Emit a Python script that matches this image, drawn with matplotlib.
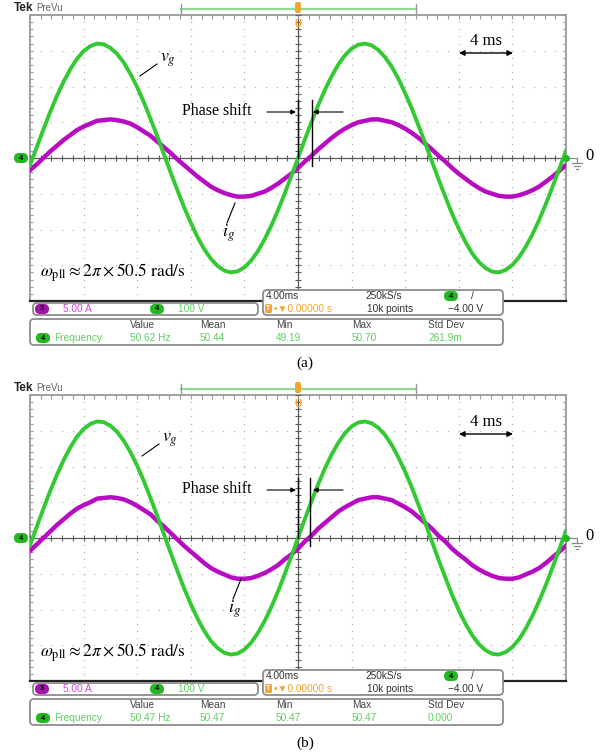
import numpy as np
import matplotlib
matplotlib.use('Agg')
import matplotlib.pyplot as plt
from matplotlib.patches import FancyBboxPatch, Rectangle

plt.rcParams['mathtext.fontset'] = 'stix'

W, H = 611, 756

# ---------------- data ----------------
t_ms = [k * 0.5 for k in range(-40, 41)]  # sample times relative to trigger, ms
vg_a = [-20, 30, 80, 128, 173, 213, 248, 277, 299, 313, 320, 318, 308, 291, 267, 235, 198, 156, 109, 61,
        10, -41, -90, -138, -181, -221, -255, -282, -302, -315, -320, -317, -306, -287, -261, -228, -190, -147, -100, -51,
        0, 51, 100, 147, 190, 228, 261, 287, 306, 317, 320, 315, 302, 282, 255, 221, 181, 138, 90, 41,
        -10, -61, -109, -156, -198, -235, -267, -291, -308, -318, -320, -313, -299, -277, -248, -213, -173, -128, -80, -30,
        20]
ig_a = [-1.7, -0.9, 0.0, 0.9, 1.7, 2.5, 3.2, 3.9, 4.4, 4.8, 5.2, 5.3, 5.4, 5.3, 5.1, 4.8, 4.3, 3.7, 3.1, 2.3,
        1.5, 0.7, -0.2, -1.0, -1.8, -2.6, -3.3, -4.0, -4.5, -4.9, -5.2, -5.4, -5.4, -5.3, -5.0, -4.7, -4.2, -3.6, -2.9, -2.2,
        -1.4, -0.5, 0.3, 1.2, 2.0, 2.8, 3.5, 4.1, 4.6, 5.0, 5.2, 5.4, 5.4, 5.2, 5.0, 4.6, 4.1, 3.5, 2.8, 2.0,
        1.2, 0.3, -0.5, -1.4, -2.2, -2.9, -3.6, -4.2, -4.7, -5.0, -5.3, -5.4, -5.4, -5.2, -4.9, -4.5, -4.0, -3.3, -2.6, -1.8,
        -1.0]
vg_b = [-20, 31, 82, 131, 176, 217, 253, 283, 305, 319, 326, 324, 314, 297, 272, 240, 202, 159, 111, 62,
        10, -42, -92, -141, -185, -225, -260, -288, -308, -321, -326, -323, -312, -293, -266, -233, -194, -150, -102, -52,
        0, 52, 102, 150, 194, 233, 266, 293, 312, 323, 326, 321, 308, 288, 260, 225, 185, 141, 92, 42,
        -10, -62, -111, -159, -202, -240, -272, -297, -314, -324, -326, -319, -305, -283, -253, -217, -176, -131, -82, -31,
        20]
ig_b = [-1.8, -0.9, 0.0, 0.9, 1.8, 2.6, 3.4, 4.1, 4.6, 5.0, 5.5, 5.6, 5.7, 5.6, 5.4, 5.0, 4.5, 3.9, 3.3, 2.4,
        1.6, 0.7, -0.2, -1.1, -1.9, -2.7, -3.5, -4.2, -4.7, -5.1, -5.5, -5.7, -5.7, -5.6, -5.3, -4.9, -4.4, -3.8, -3.0, -2.3,
        -1.5, -0.5, 0.3, 1.3, 2.1, 2.9, 3.7, 4.3, 4.8, 5.3, 5.5, 5.7, 5.7, 5.5, 5.3, 4.8, 4.3, 3.7, 2.9, 2.1,
        1.3, 0.3, -0.5, -1.5, -2.3, -3.0, -3.8, -4.4, -4.9, -5.3, -5.6, -5.7, -5.7, -5.5, -5.1, -4.7, -4.2, -3.5, -2.7, -1.9,
        -1.1]
volts_per_div = 100
amps_per_div = 5

freq_headers = ["Value", "Mean", "Min", "Max", "Std Dev"]
freq_a = ["50.62 Hz", "50.44", "49.19", "50.70", "261.9m"]
freq_b = ["50.47 Hz", "50.47", "50.47", "50.47", "0.000"]
panel_labels = ["(a)", "(b)"]
pll_text = r'$\omega_{\mathrm{pll}} \approx 2\pi \times 50.5\ \mathrm{rad/s}$'

# ---------------- styling ----------------
GREEN = '#33c933'
MAGENTA = '#b80cc2'
TXT_GREEN = '#5fcf5f'
TXT_MAG = '#d247d8'
ORANGE = '#f2a531'
NARROW = ['Liberation Sans Narrow', 'Liberation Sans', 'DejaVu Sans']
SERIF = ['Liberation Serif', 'DejaVu Serif']

fig = plt.figure(figsize=(W / 100, H / 100), dpi=100)
ov = fig.add_axes([0, 0, 1, 1], zorder=5)
ov.set_xlim(0, W)
ov.set_ylim(H, 0)
ov.axis('off')
ov.patch.set_alpha(0)


def rbox(x0, y0, x1, y1, ec='#8c8c8c', fc='white', lw=1.3, r=4):
    ov.add_patch(FancyBboxPatch((x0, y0), x1 - x0, y1 - y0,
                                boxstyle=f'round,pad=0,rounding_size={r}',
                                ec=ec, fc=fc, lw=lw, zorder=6))


def badge(xc, yc, label, fc):
    ov.add_patch(FancyBboxPatch((xc - 7, yc - 5), 14, 10,
                                boxstyle='round,pad=0,rounding_size=5',
                                ec='none', fc=fc, zorder=7))
    ov.text(xc, yc, label, fontsize=5.5, ha='center', va='center',
            color='black', family=NARROW, fontweight='bold', zorder=8)


def stxt(x, y, s, color='#444444', size=7.3, ha='left'):
    ov.text(x, y, s, fontsize=size, color=color, ha=ha, va='center',
            family=NARROW, zorder=8)


def draw_panel(off, vg, ig, fvals, label, ann):
    gx0, gx1 = 30, 566
    gy0, gy1 = 15 + off, 301 + off
    ax = fig.add_axes([gx0 / W, 1 - gy1 / H, (gx1 - gx0) / W, (gy1 - gy0) / H], zorder=1)
    ax.set_xlim(-20, 20)
    ax.set_ylim(-4, 4)
    ax.axis('off')

    # dotted graticule
    ys = np.arange(-4, 4.001, 0.2)
    xs = np.arange(-20, 20.001, 0.8)
    for xv in [-16, -12, -8, -4, 4, 8, 12, 16]:
        ax.plot([xv] * len(ys), ys, ls='none', marker='s', ms=0.9, color='#b5b5b5', mew=0)
    for yv in [-3, -2, -1, 1, 2, 3]:
        ax.plot(xs, [yv] * len(xs), ls='none', marker='s', ms=0.9, color='#b5b5b5', mew=0)
    # centre cross with minor ticks
    ax.axhline(0, color='#5a5a5a', lw=0.9)
    ax.axvline(0, color='#5a5a5a', lw=0.9)
    ax.vlines(xs, -0.09, 0.09, color='#5a5a5a', lw=0.8)
    ax.hlines(ys, -0.22, 0.22, color='#5a5a5a', lw=0.8)
    # border and border ticks
    ax.vlines(xs, 3.9, 4, color='#9a9a9a', lw=0.8)
    ax.hlines(ys, -20, -19.75, color='#9a9a9a', lw=0.8)
    ax.hlines(ys, 19.75, 20, color='#9a9a9a', lw=0.8)
    ax.add_patch(Rectangle((-20, -4), 40, 8, fill=False, ec='#a0a0a0', lw=1.4, clip_on=False))
    ax.plot([-20, 20], [-4, -4], color='#222222', lw=1.6, clip_on=False)

    # traces
    ax.plot(t_ms, np.array(ig) / amps_per_div, color=MAGENTA, lw=3.2,
            solid_joinstyle='round', zorder=3)
    ax.plot(t_ms, np.array(vg) / volts_per_div, color=GREEN, lw=2.8,
            solid_joinstyle='round', zorder=4)

    # --- header ---
    ov.text(14, 8 + off, 'Tek', fontsize=8.5, fontweight='bold', va='center',
            family=NARROW, color='#222222')
    ov.text(36, 8 + off, 'PreVu', fontsize=7, va='center', family=NARROW, color='#666666')
    ov.plot([181, 416], [9 + off, 9 + off], color='#8fdc8f', lw=1.6)
    ov.plot([181, 181], [4 + off, 14 + off], color='#999999', lw=1)
    ov.plot([416, 416], [4 + off, 14 + off], color='#999999', lw=1)
    ov.add_patch(FancyBboxPatch((295, 2 + off), 6, 11, boxstyle='round,pad=0,rounding_size=2',
                                fc=ORANGE, ec='none', zorder=7))
    ov.text(298, 24 + off, 'U', fontsize=7, color=ORANGE, ha='center', va='center',
            fontweight='bold', family=NARROW, zorder=8)

    # zero markers
    badge(21, 158 + off, '4', '#22b822')
    ov.plot([566], [158 + off], marker='o', ms=4, color='#22b822', zorder=7)
    ov.plot([566, 577, 577], [158 + off, 158 + off, 163 + off], color='#888888', lw=0.9)
    for w, dy in [(10, 163), (6, 166), (2, 169)]:
        ov.plot([577 - w / 2, 577 + w / 2], [dy + off, dy + off], color='#888888', lw=0.9)
    ov.text(585, 156 + off, '0', fontsize=12, family=SERIF, va='center')

    # --- annotations ---
    ov.text(486, 41 + off + ann['ms'], '4 ms', fontsize=12, family=SERIF, ha='center', va='center')
    ov.annotate('', xy=(513, 53 + off + ann['ms']), xytext=(459, 53 + off + ann['ms']),
                arrowprops=dict(arrowstyle='<|-|>', color='black', lw=1, mutation_scale=8,
                                shrinkA=0, shrinkB=0))
    vx, vy = ann['vg']
    ov.text(vx, vy + off, r'$v_g$', fontsize=13, va='center')
    ov.plot([vx - 3, vx - 20], [vy + off + 4, vy + off + 16], color='black', lw=0.8)
    ix, iy = ann['ig']
    ov.text(ix, iy + off, r'$i_g$', fontsize=13, va='center')
    ov.plot([ix + 5, ix + 13], [iy + off - 10, iy + off - 30], color='black', lw=0.8)
    py = ann['ps'] + off
    ov.text(182, py - 1, 'Phase shift', fontsize=11.5, family=SERIF, va='center')
    ov.annotate('', xy=(296, py), xytext=(267, py),
                arrowprops=dict(arrowstyle='-|>', color='black', lw=0.8, mutation_scale=7,
                                shrinkA=0, shrinkB=0))
    ov.annotate('', xy=(313, py), xytext=(343, py),
                arrowprops=dict(arrowstyle='-|>', color='black', lw=0.8, mutation_scale=7,
                                shrinkA=0, shrinkB=0))
    ov.plot([298, 298], [py - 12, 158 + off], color='black', lw=1.0)
    ov.plot([ann['x2'], ann['x2']], [py - 12, 166 + off], color='black', lw=1.0)
    ov.text(40, 273 + off, pll_text, fontsize=12.5, va='center')

    # --- status boxes ---
    rbox(33, 303 + off, 258, 315 + off)
    badge(42, 309 + off, '3', '#a314ab')
    stxt(63, 309 + off, '5.00 A', color=TXT_MAG)
    badge(157, 309 + off, '4', '#22b822')
    stxt(178, 309 + off, '100 V', color=TXT_GREEN)

    rbox(263, 290 + off, 503, 315 + off)
    stxt(266, 296 + off, '4.00ms', color='#333333')
    stxt(365, 296 + off, '250kS/s', color='#333333')
    badge(451, 296 + off, '4', '#22b822')
    stxt(471, 296 + off, '/', color='#333333')
    ov.add_patch(FancyBboxPatch((265, 304 + off), 7, 9, boxstyle='round,pad=0,rounding_size=1.5',
                                fc=ORANGE, ec='none', zorder=7))
    ov.text(268.5, 308.5 + off, 'T', fontsize=5, color='white', ha='center', va='center',
            family=NARROW, fontweight='bold', zorder=8)
    ov.text(274, 309 + off, '\u2022\u25bc0.00000 s', fontsize=7.3, color=ORANGE, va='center',
            family=NARROW, zorder=8)
    stxt(367, 309 + off, '10k points', color='#333333')
    stxt(448, 309 + off, '\u22124.00 V', color='#333333')

    rbox(30, 319 + off, 503, 345 + off)
    hx = [130, 200, 276, 352, 428]
    for x, h in zip(hx, freq_headers):
        stxt(x, 325 + off, h, color='#444444')
    badge(43, 338 + off, '4', '#22b822')
    stxt(54, 338 + off, 'Frequency', color=TXT_GREEN)
    for x, v in zip(hx, fvals):
        stxt(x, 338 + off, v, color=TXT_GREEN)

    ov.text(305, 363 + off, label, fontsize=11, family=SERIF, ha='center', va='center')


draw_panel(0, vg_a, ig_a, freq_a, panel_labels[0],
           dict(ms=0, vg=(160, 60), ig=(222, 233), ps=112, x2=312))
draw_panel(380, vg_b, ig_b, freq_b, panel_labels[1],
           dict(ms=1, vg=(162, 60), ig=(228, 229), ps=110, x2=310))

fig.savefig('out.png', dpi=100)
